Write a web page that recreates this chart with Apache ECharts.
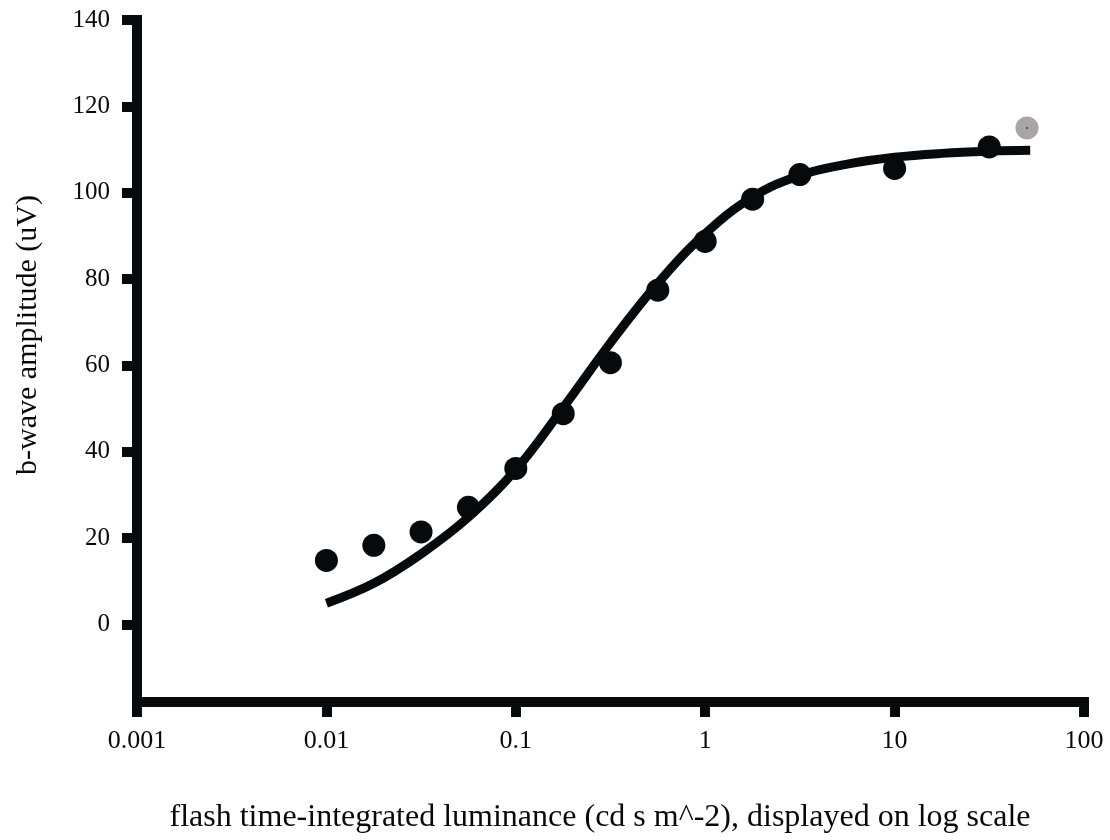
<!DOCTYPE html>
<html>
<head>
<meta charset="utf-8">
<script src="https://cdn.jsdelivr.net/npm/echarts@6/dist/echarts.min.js"></script>
<style>
html,body{margin:0;padding:0;background:#fff;}
#chart{width:1110px;height:840px;}
</style>
</head>
<body>
<div id="chart"></div>
<script>
// Measured data points (flash luminance, b-wave amplitude)
const pointX = [0.01, 0.0178, 0.0316, 0.0562, 0.1, 0.178, 0.316, 0.562, 1, 1.78, 3.16, 10, 31.6];
const pointY = [14.8, 18.3, 21.4, 27.1, 36.1, 48.8, 60.6, 77.4, 88.7, 98.5, 104.2, 105.6, 110.6];
// Excluded (grey) point
const outlierX = [50];
const outlierY = [115];
// Fitted curve
const fitX = [0.01, 0.0178, 0.0316, 0.0562, 0.1, 0.178, 0.316, 0.562, 1, 1.78, 3.16, 5.62, 10, 17.8, 31.6, 52];
const fitY = [4.9, 9.5, 16.3, 24.8, 35.8, 50.2, 65.2, 79.0, 90.5, 99.0, 104.0, 106.6, 108.2, 109.1, 109.6, 109.8];
// Tick labels
const xTickValues = [0.001, 0.01, 0.1, 1, 10, 100];
const xTickLabels = ['0.001', '0.01', '0.1', '1', '10', '100'];
const yTickValues = [0, 20, 40, 60, 80, 100, 120, 140];
const xTitle = 'flash time-integrated luminance (cd s m^-2), displayed on log scale';
const yTitle = 'b-wave amplitude (uV)';

const ink = '#060a0c';
const font = '"Liberation Serif", "DejaVu Serif", serif';

const chart = echarts.init(document.getElementById('chart'));
const zip = (a, b) => a.map((v, i) => [v, b[i]]);

chart.setOption({
  backgroundColor: '#ffffff',
  animation: false,
  grid: {left: 137, right: 26, top: 20, bottom: 138, containLabel: false},
  xAxis: {
    type: 'log', logBase: 10, min: 0.001, max: 100,
    axisLine: {onZero: false, lineStyle: {color: ink, width: 10, cap: 'square'}},
    axisTick: {length: 15, lineStyle: {color: ink, width: 10}},
    splitLine: {show: false},
    axisLabel: {
      margin: 26, color: ink, fontFamily: font, fontSize: 26,
      formatter: function (v) {
        for (let i = 0; i < xTickValues.length; i++) {
          if (Math.abs(Math.log10(v) - Math.log10(xTickValues[i])) < 1e-6) return xTickLabels[i];
        }
        return '';
      }
    }
  },
  yAxis: {
    type: 'value', min: -18, max: 140,
    axisLine: {onZero: false, lineStyle: {color: ink, width: 10, cap: 'square'}},
    axisTick: {length: 15, lineStyle: {color: ink, width: 10}, customValues: yTickValues},
    splitLine: {show: false},
    axisLabel: {margin: 27, color: ink, fontFamily: font, fontSize: 25, customValues: yTickValues}
  },
  graphic: [
    {type: 'text', x: 600, y: 818,
     style: {text: xTitle, font: '32px ' + font, fill: ink, textAlign: 'center', textVerticalAlign: 'middle'}, z: 10},
    {type: 'text', x: 28, y: 335, rotation: Math.PI / 2,
     style: {text: yTitle, font: '30px ' + font, fill: ink, textAlign: 'center', textVerticalAlign: 'middle'}, z: 10}
  ],
  series: [
    {type: 'line', data: zip(fitX, fitY), smooth: 0.4, showSymbol: false, symbol: 'none',
     lineStyle: {color: ink, width: 9, cap: 'butt'}, z: 3},
    {type: 'scatter', data: zip(pointX, pointY), symbolSize: 23,
     itemStyle: {color: ink, opacity: 1}, z: 4},
    {type: 'scatter', data: zip(outlierX, outlierY), symbolSize: 23,
     itemStyle: {color: '#a9a4a5', opacity: 1}, z: 4},
    {type: 'scatter', data: zip(outlierX, outlierY), symbolSize: 2,
     itemStyle: {color: '#333', opacity: 1}, z: 5}
  ]
});
</script>
</body>
</html>
